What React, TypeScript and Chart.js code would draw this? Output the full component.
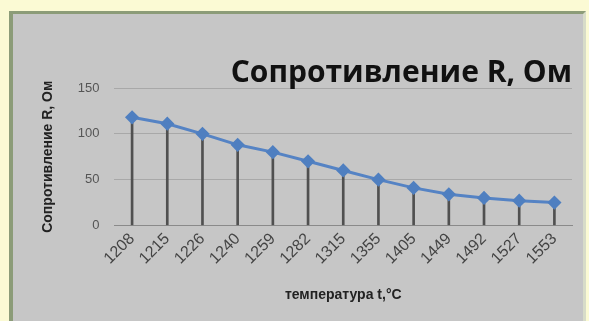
import React, { useEffect, useRef } from "react";
import { Chart, registerables } from "chart.js";

Chart.register(...registerables);

const temperatures = ["1208", "1215", "1226", "1240", "1259", "1282", "1315", "1355", "1405", "1449", "1492", "1527", "1553"];
const resistance = [118, 111, 100, 88, 80, 70, 60, 50, 41, 34, 30, 27, 25];
const yTicks = [0, 50, 100, 150];

const titleText = "Сопротивление R, Ом";
const yTitle = "Сопротивление R, Ом";
const xTitle = "температура t,°C";

export default function App() {
  const ref = useRef<HTMLCanvasElement | null>(null);

  useEffect(() => {
    document.body.style.margin = "0";
    const ctx = ref.current!.getContext("2d")!;
    const chart = new Chart(ctx, {
      type: "bar",
      data: {
        labels: temperatures,
        datasets: [
          {
            type: "line",
            data: resistance,
            borderColor: "#5583c4",
            backgroundColor: "#5583c4",
            borderWidth: 3,
            pointStyle: "rectRot",
            pointRadius: 5,
            pointBackgroundColor: "#4f7fc0",
            pointBorderColor: "#4f7fc0",
            tension: 0,
            order: 0,
          } as any,
          {
            type: "bar",
            data: resistance,
            backgroundColor: "#505050",
            barThickness: 2,
            order: 1,
          } as any,
        ],
      },
      options: {
        animation: false,
        responsive: false,
        layout: { padding: { left: 40, right: 17, top: 58, bottom: 17 } },
        plugins: {
          legend: { display: false },
          tooltip: { enabled: false },
          title: {
            display: true,
            text: titleText,
            align: "end",
            color: "#111",
            font: { family: "'Open Sans', sans-serif", size: 30, weight: "bold", lineHeight: 1 },
            padding: { top: 0, bottom: 0 },
          },
        },
        scales: {
          x: {
            grid: { display: false, drawTicks: false },
            border: { color: "#8a8a8a", width: 1 },
            ticks: {
              color: "#444",
              maxRotation: 45,
              minRotation: 45,
              font: { family: "'Liberation Sans', sans-serif", size: 16 },
              padding: 4,
            },
            title: {
              display: true,
              text: xTitle,
              color: "#222",
              font: { family: "'Liberation Sans', sans-serif", size: 14, weight: "bold" },
              padding: { top: 15, bottom: 0 },
            },
          },
          y: {
            min: 0,
            max: 150,
            afterBuildTicks: (axis: any) => {
              axis.ticks = yTicks.map((v) => ({ value: v }));
            },
            grid: { color: "#a8a8a8", drawTicks: false },
            border: { display: false },
            ticks: {
              color: "#555",
              font: { family: "'Liberation Sans', sans-serif", size: 13 },
              padding: 15,
            },
            title: {
              display: true,
              text: yTitle,
              color: "#222",
              font: { family: "'Liberation Sans', sans-serif", size: 14, weight: "bold" },
              padding: { top: 0, bottom: 6 },
            },
          },
        },
      },
    });
    return () => chart.destroy();
  }, []);

  return (
    <div style={{ position: "relative", width: 589, height: 321, background: "#fbfad4", overflow: "hidden" }}>
      <div
        style={{
          position: "absolute",
          left: 9,
          top: 11,
          width: 570,
          height: 320,
          background: "#c6c6c6",
          borderLeft: "4px solid #8c9c78",
          borderTop: "3px solid #8c9c78",
          borderRight: "3px solid #d8dcc8",
        }}
      />
      <canvas ref={ref} width={589} height={321} style={{ position: "absolute", left: 0, top: 0 }} />
    </div>
  );
}
